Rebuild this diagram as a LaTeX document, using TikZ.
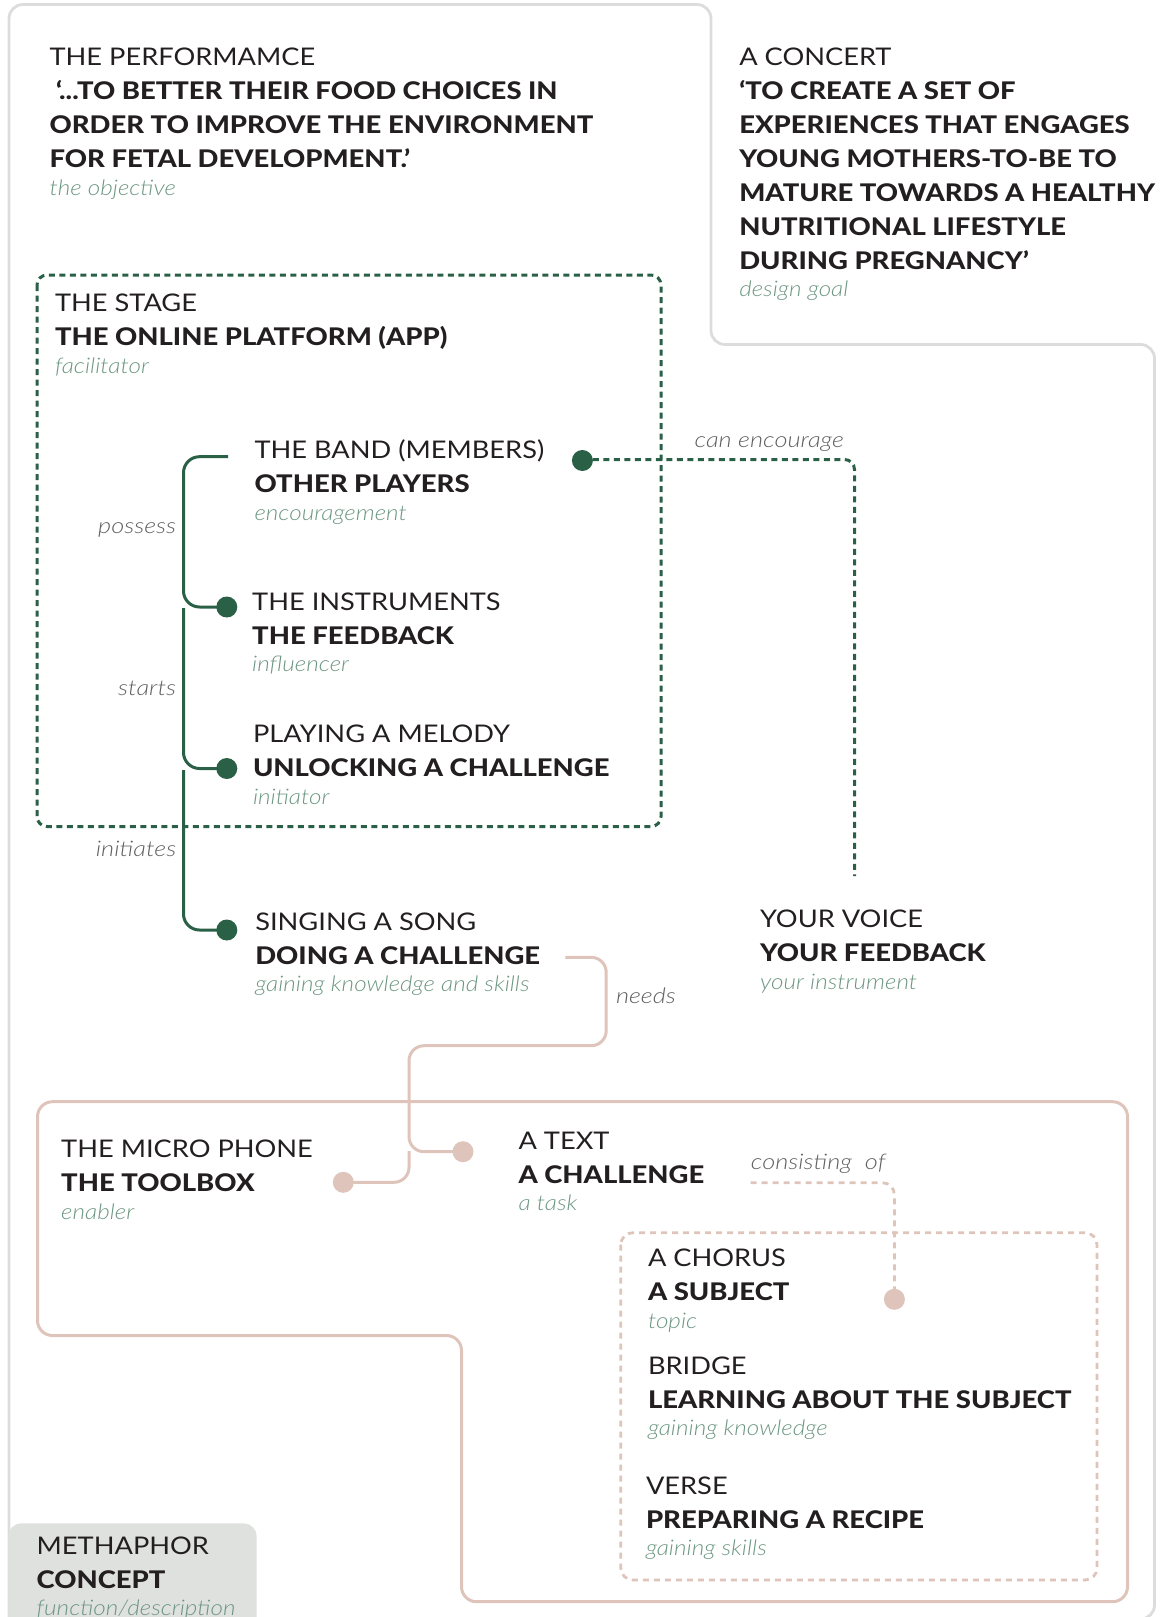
\documentclass[tikz,border=0pt]{standalone}
\usepackage{fontspec}
\IfFontExistsTF{Lato Heavy}{\setmainfont{Lato}[FakeStretch=1.13, BoldFont={Lato Heavy}]}{\setmainfont{Lato}[FakeStretch=1.13]}
\newfontfamily\lightfont{Lato}[FakeStretch=1.12]
\IfFontExistsTF{Lato Light Italic}{%
  \newfontfamily\lightital{Lato Light Italic}[FakeStretch=1.13]%
  \newfontfamily\lblital{Lato Light Italic}[FakeStretch=1.18]}{%
  \newfontfamily\lightital{Lato Italic}[FakeStretch=1.13]%
  \newfontfamily\lblital{Lato Italic}[FakeStretch=1.18]}

\definecolor{ink}{RGB}{35,31,32}
\definecolor{subgreen}{RGB}{108,150,130}
\definecolor{lblgray}{RGB}{95,95,95}
\definecolor{dgreen}{RGB}{42,96,70}
\definecolor{rose}{RGB}{222,196,186}
\definecolor{framegray}{RGB}{220,220,220}
\definecolor{legendfill}{RGB}{223,225,223}

% one line of each weight, stacked on a fixed baseline grid
\newcommand\ltline[1]{\hbox{\color{ink}\lightfont\fontsize{24.3pt}{34pt}\selectfont #1}}
\newcommand\bdline[1]{\hbox{\color{ink}\fontsize{24.3pt}{34pt}\selectfont\bfseries #1}}
\newcommand\itline[1]{\vskip-6.2pt\hbox{\color{subgreen}\lightital\fontsize{21.5pt}{26pt}\selectfont #1}}
\newcommand\stack[1]{\vtop{\baselineskip=34pt\lineskiplimit=-100pt\lineskip=0pt #1}}

\begin{document}
\begin{tikzpicture}[x=1pt,y=-1pt,
  frame/.style={draw=framegray, line width=2.8pt, rounded corners=14pt},
  gline/.style={draw=dgreen, line width=3pt, rounded corners=16pt},
  gdash/.style={draw=dgreen, line width=3pt, dash pattern=on 6pt off 4.5pt, rounded corners=10pt},
  pline/.style={draw=rose, line width=3pt, rounded corners=15pt},
  pdash/.style={draw=rose, line width=2.8pt, dash pattern=on 6pt off 5pt, rounded corners=12pt},
  gdot/.style={circle, fill=dgreen, minimum size=21pt, inner sep=0pt},
  pdot/.style={circle, fill=rose, minimum size=21pt, inner sep=0pt},
  blk/.style={anchor=base west, inner sep=0pt, outer sep=0pt},
  lbl/.style={inner sep=0pt, text=lblgray, font=\lblital\fontsize{21.5pt}{26pt}\selectfont}]

\useasboundingbox (0,0) rectangle (1162,1617);

% outer frame
\draw[frame] (9,1660) -- (9,4.5) -- (711,4.5) -- (711,344.5) -- (1154.5,344.5) -- (1154.5,1619) -- (900,1619);

% the stage
\draw[gdash] (37,275) rectangle (661,826.5);

% toolbox area and song parts
\draw[pline] (37.5,1101.7) -- (1127.5,1101.7) -- (1127.5,1601.7) -- (461.5,1601.7) -- (461.5,1335.5) -- (37.5,1335.5) -- cycle;
\draw[pdash] (620.8,1232.7) rectangle (1097,1580);

% legend
\fill[legendfill, rounded corners=13pt] (8.3,1523.3) rectangle (256.7,1660);

% text blocks
\node[blk] (perf) at (49.6,65.7) {\stack{\ltline{THE PERFORMAMCE}
  \bdline{\ ‘...TO BETTER THEIR FOOD CHOICES IN}
  \bdline{ORDER TO IMPROVE THE ENVIRONMENT}
  \bdline{FOR FETAL DEVELOPMENT.’}
  \itline{the objective}}};

\node[blk] (concert) at (739.3,65) {\stack{\ltline{A CONCERT}
  \bdline{‘TO CREATE A SET OF}
  \bdline{EXPERIENCES THAT ENGAGES}
  \bdline{YOUNG MOTHERS-TO-BE TO}
  \bdline{MATURE TOWARDS A HEALTHY}
  \bdline{NUTRITIONAL LIFESTYLE}
  \bdline{DURING PREGNANCY’}
  \itline{design goal}}};

\node[blk] (stage) at (55,311.7) {\stack{\ltline{THE STAGE}
  \bdline{THE ONLINE PLATFORM (APP)}\itline{facilitator}}};

\node[blk] (band) at (254.5,458.3) {\stack{\ltline{THE BAND (MEMBERS)}
  \bdline{OTHER PLAYERS}\itline{encouragement}}};

\node[blk] (instr) at (252.2,610) {\stack{\ltline{THE INSTRUMENTS}
  \bdline{THE FEEDBACK}\itline{influencer}}};

\node[blk] (melody) at (253,742.7) {\stack{\ltline{PLAYING A MELODY}
  \bdline{UNLOCKING A CHALLENGE}\itline{initiator}}};

\node[blk] (song) at (255.3,930) {\stack{\ltline{SINGING A SONG}
  \bdline{DOING A CHALLENGE}\itline{gaining knowledge and skills}}};

\node[blk] (voice) at (760,927.4) {\stack{\ltline{YOUR VOICE}
  \bdline{YOUR FEEDBACK}\itline{your instrument}}};

\node[blk] (mic) at (61.2,1157.3) {\stack{\ltline{THE MICRO PHONE}
  \bdline{THE TOOLBOX}\itline{enabler}}};

\node[blk] (text) at (518.6,1149) {\stack{\ltline{A TEXT}
  \bdline{A CHALLENGE}\itline{a task}}};

\node[blk] (chorus) at (648,1266.7) {\stack{\ltline{A CHORUS}
  \bdline{A SUBJECT}\itline{topic}}};

\node[blk] (bridge) at (648,1374) {\stack{\ltline{BRIDGE}
  \bdline{LEARNING ABOUT THE SUBJECT}\itline{gaining knowledge}}};

\node[blk] (verse) at (646,1494) {\stack{\ltline{VERSE}
  \bdline{PREPARING A RECIPE}\itline{gaining skills}}};

\node[blk] (legend) at (36.7,1554) {\stack{\ltline{METHAPHOR}
  \bdline{CONCEPT}\itline{function/description}}};

% connector end points
\coordinate (possessStart) at (228,456.7);
\coordinate (startsTop) at (183.5,608);
\coordinate (initiatesTop) at (183.5,770);
\coordinate (voiceTop) at (854.5,876);
\coordinate (needsStart) at (565.3,957.3);
\coordinate (micJoin) at (409,1151);
\coordinate (consStart) at (750.7,1182.7);

% green links inside the stage
\draw[gline] (possessStart) -- (183.5,456.7) |- (226.8,607);
\draw[gline] (startsTop) |- (226.8,768.5);
\draw[gline] (initiatesTop) |- (226.8,930);
\draw[gdash] (582.4,459.5) -- (854.5,459.5) -- (voiceTop);

% rose links
\draw[pline] (needsStart) -- (606.2,957.3) -- (606.2,1045.7) -- (409,1045.7) |- (463,1151.7);
\draw[pline] (343.3,1182.3) -| (micJoin);
\draw[pdash] (consStart) -| (894.4,1299.3);

% dots
\node[gdot] (dInstr) at (226.8,607) {};
\node[gdot] (dMelody) at (226.8,768.5) {};
\node[gdot] (dSong) at (226.8,930) {};
\node[gdot] (dBand) at (582.4,460.5) {};
\node[pdot] (dText) at (463,1151.7) {};
\node[pdot] (dMic) at (343.3,1182.3) {};
\node[pdot] (dChorus) at (894.4,1299.3) {};

% link labels
\node[lbl, anchor=base east] (lPossess) at (176.3,533.3) {possess};
\node[lbl, anchor=base east] (lStarts) at (176.3,695.7) {starts};
\node[lbl, anchor=base east] (lInitiates) at (176.4,856.7) {initiates};
\node[lbl, anchor=base west] (lEncourage) at (694.4,447.8) {can encourage};
\node[lbl, anchor=base west] (lNeeds) at (615.8,1003.3) {needs};
\node[lbl, anchor=base west] (lConsist) at (750.7,1169.3) {consisting\ \ of};
\end{tikzpicture}
\end{document}
